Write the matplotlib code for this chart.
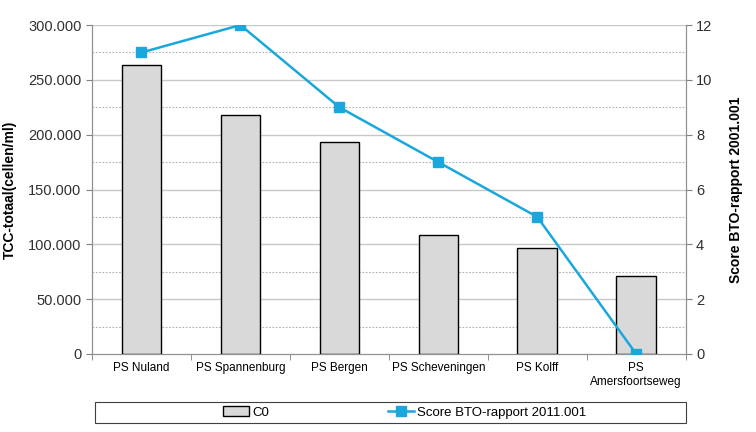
import numpy as np
import matplotlib.pyplot as plt
from matplotlib.patches import Rectangle
from matplotlib.ticker import FuncFormatter, MultipleLocator

# data
locaties = ['PS Nuland', 'PS Spannenburg', 'PS Bergen', 'PS Scheveningen',
            'PS Kolff', 'PS\nAmersfoortseweg']
c0 = [263500, 218000, 193300, 108500, 96600, 71100]
score = [11, 12, 9, 7, 5, 0]

plt.rcParams['font.family'] = ['Liberation Sans', 'DejaVu Sans']

fig = plt.figure(figsize=(7.56, 4.32), dpi=100)
ax = fig.add_axes([0.1217, 0.1806, 0.7853, 0.7614])
ax2 = ax.twinx()

x = np.arange(len(locaties))
bars = ax.bar(x, c0, width=0.4, color='#d9d9d9', edgecolor='black',
              linewidth=1.0, label='C0', zorder=3)
line, = ax2.plot(x, score, color='#1aa7dc', linewidth=1.8, marker='s',
                 markersize=7, label='Score BTO-rapport 2011.001', zorder=4)

ax.set_xlim(-0.5, len(locaties) - 0.5)
ax.set_ylim(0, 300000)
ax2.set_ylim(0, 12)
ax.yaxis.set_major_locator(MultipleLocator(50000))
ax2.yaxis.set_major_locator(MultipleLocator(2))
ax.yaxis.set_major_formatter(FuncFormatter(lambda v, p: f'{int(v):,}'.replace(',', '.')))

# gridlines: solid on major, dotted in between
for v in np.arange(50000, 300001, 50000):
    ax.axhline(v, color='#c8c8c8', linewidth=1.0, zorder=0)
for v in np.arange(25000, 300000, 50000):
    ax.axhline(v, color='#b0b0b0', linewidth=0.8, linestyle=(0, (1.5, 1.5)), zorder=0)

ax.set_xticks(x)
ax.set_xticklabels(locaties, fontsize=8.5)
ax.tick_params(axis='x', length=0, pad=6)
ax.set_xticks(np.arange(-0.5, len(locaties)), minor=True)
ax.tick_params(axis='x', which='minor', length=4, color='#808080')

ax.tick_params(axis='y', labelsize=10.5, color='#808080', length=4, labelcolor='#303030')
ax2.tick_params(axis='y', labelsize=10.5, color='#808080', length=4, labelcolor='#303030')

for a in (ax, ax2):
    for s in a.spines.values():
        s.set_color('#909090')
    a.spines['top'].set_visible(False)

ax.set_ylabel('TCC-totaal(cellen/ml)', fontsize=10, fontweight='bold', labelpad=8)
ax2.set_ylabel('Score BTO-rapport 2001.001', fontsize=10, fontweight='bold', labelpad=12)

# legend frame drawn separately so the entries stay centred
fig.patches.append(Rectangle((0.1257, 0.021), 0.7813, 0.048, transform=fig.transFigure,
                             fill=False, edgecolor='#404040', linewidth=0.8))
leg = fig.legend(handles=[bars, line], loc='center', bbox_to_anchor=(0.535, 0.045),
                 ncol=2, fontsize=9.5, frameon=False, columnspacing=9.0,
                 handlelength=2.0, handletextpad=0.2)

fig.savefig('out.png', dpi=100)
